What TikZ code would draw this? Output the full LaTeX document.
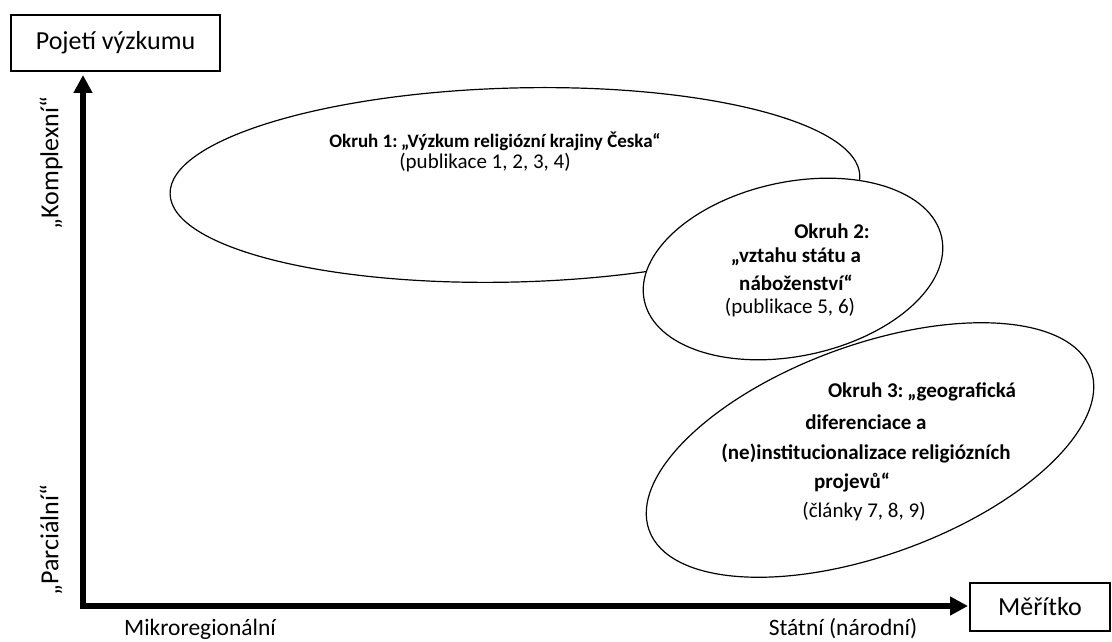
\documentclass[tikz,border=0pt]{standalone}
\usepackage{fontspec}
\setmainfont{Carlito}
\usetikzlibrary{arrows.meta}
\newcommand{\bq}{\hspace{-0.12em}„}
\begin{document}
\begin{tikzpicture}[x=1pt,y=-1pt,
  lab/.style={font=\fontsize{26}{30}\selectfont, inner sep=0pt},
  box/.style={draw, line width=1.3pt, inner sep=0pt, lab},
  bot/.style={font=\fontsize{23.5}{28}\selectfont, inner sep=0pt, anchor=base},
  axis/.style={line width=5.5pt, {Triangle[length=18pt,width=18pt]}-{Triangle[length=18pt,width=18pt]}},
  ell/.style={draw, fill=white, line width=1.2pt},
  et/.style={font=\fontsize{21}{25}\selectfont, inner sep=0pt},
  etb/.style={font=\fontsize{21}{25}\selectfont\bfseries, inner sep=0pt}]
\useasboundingbox (0,0) rectangle (1112,642);
% boxes
\node[box, minimum width=209pt, minimum height=56pt] (pojeti) at (115.5,43) {Pojetí výzkumu};
\node[box, minimum width=140pt, minimum height=48pt] (meritko) at (1040,607) {Měřítko};
% axes
\coordinate (O) at (83,606);
\coordinate (ytop) at (83,75);
\coordinate (xend) at (968,606);
\draw[axis] (ytop) -- (O) -- (xend);
% axis labels
\node[lab, rotate=90] (kompl) at (51,163) {„Komplexní“};
\node[lab, rotate=90] (parc) at (51,540) {„Parciální“};
\node[bot] (mikro) at (200,635) {Mikroregionální};
\node[bot] (statni) at (843,635) {Státní (národní)};
% ellipses
\coordinate (c1) at (515,185);
\coordinate (c2) at (793,269);
\coordinate (c3) at (870,450);
\draw[ell, rotate around={1.5:(c1)}] (c1) ellipse [x radius=345pt, y radius=97pt];
\draw[ell, rotate around={20:(c3)}] (c3) ellipse [x radius=235pt, y radius=105pt];
\draw[ell, rotate around={12:(c2)}] (c2) ellipse [x radius=152pt, y radius=87pt];
% ellipse texts
\node[etb, font=\fontsize{19}{23}\selectfont\bfseries] (e1a) at (495,141) {Okruh 1: \bq Výzkum religiózní krajiny Česka“};
\node[et]  (e1b) at (485,163) {(publikace 1, 2, 3, 4)};
\node[etb] (e2a) at (832,231) {Okruh 2:};
\node[etb] (e2b) at (796,257) {„vztahu státu a};
\node[etb] (e2c) at (796,283) {náboženství“};
\node[et]  (e2d) at (790,308) {(publikace 5, 6)};
\node[etb] (e3a) at (922,392) {Okruh 3: \bq geografická};
\node[etb] (e3b) at (866,422) {diferenciace a};
\node[etb] (e3c) at (866,453) {(ne)institucionalizace religiózních};
\node[etb] (e3d) at (852,483) {projevů“};
\node[et]  (e3e) at (864,512) {(články 7, 8, 9)};
\end{tikzpicture}
\end{document}
